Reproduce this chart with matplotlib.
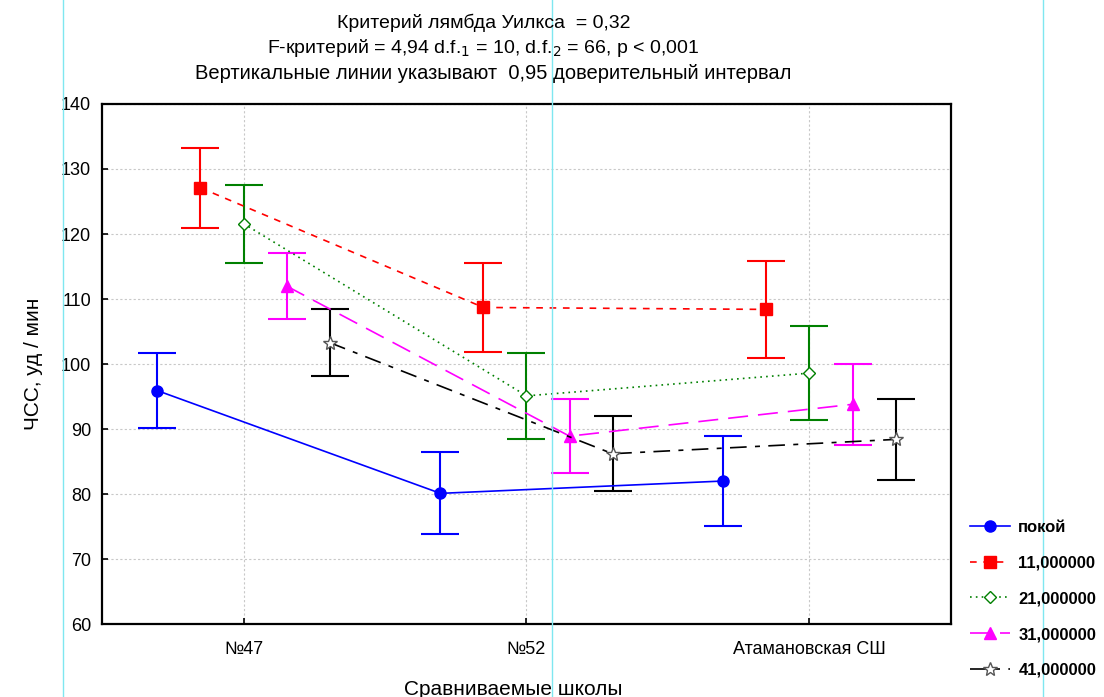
import matplotlib
matplotlib.use("Agg")
import matplotlib.pyplot as plt
from matplotlib.lines import Line2D
import numpy as np

SCHOOLS = ["№47", "№52", "Атамановская СШ"]
SERIES = ["покой", "11,000000", "21,000000", "31,000000", "41,000000"]

# group means and half-width of 0.95 CI, one list per series
REST_MEAN = [95.9, 80.1, 82.0]
REST_CI = [5.8, 6.3, 6.9]
L11_MEAN = [127.1, 108.7, 108.4]
L11_CI = [6.2, 6.9, 7.4]
L21_MEAN = [121.6, 95.1, 98.6]
L21_CI = [6.0, 6.6, 7.2]
L31_MEAN = [112.0, 88.9, 93.8]
L31_CI = [5.1, 5.7, 6.2]
L41_MEAN = [103.3, 86.2, 88.4]
L41_CI = [5.2, 5.8, 6.2]

MEANS = [REST_MEAN, L11_MEAN, L21_MEAN, L31_MEAN, L41_MEAN]
CIS = [REST_CI, L11_CI, L21_CI, L31_CI, L41_CI]

STYLES = [
    dict(color="#0000ff", ls="-", marker="o", ms=8, mfc="#0000ff", mec="#0000ff"),
    dict(color="#ff0000", ls=(0, (4, 4)), marker="s", ms=8, mfc="#ff0000", mec="#ff0000"),
    dict(color="#008000", ls=(0, (1, 2.5)), marker="D", ms=6, mfc="white", mec="#008000"),
    dict(color="#ff00ff", ls=(0, (12, 6)), marker="^", ms=8, mfc="#ff00ff", mec="#ff00ff"),
    dict(color="black", ls=(0, (10, 5, 3, 5)), marker="*", ms=10, mfc="white", mec="#555555"),
]

plt.rcParams["font.family"] = ["Liberation Sans", "DejaVu Sans"]

fig = plt.figure(figsize=(11.04, 6.97), dpi=100)
ax = fig.add_axes([0.0924, 0.1047, 0.7690, 0.7461])

x = np.arange(len(SCHOOLS))
offsets = np.linspace(-2, 2, len(SERIES)) * 0.152

for name, mean, ci, st, off in zip(SERIES, MEANS, CIS, STYLES, offsets):
    xs = x + off
    ax.errorbar(xs, mean, yerr=ci, fmt="none", ecolor=st["color"],
                elinewidth=1.5, capsize=14, capthick=1.5, zorder=2)
    ax.plot(xs, mean, color=st["color"], linestyle=st["ls"], linewidth=1.2,
            marker=st["marker"], markersize=st["ms"], markerfacecolor=st["mfc"],
            markeredgecolor=st["mec"], markeredgewidth=1.0, zorder=3)

ax.set_xlim(-0.5, 2.5)
ax.set_ylim(60, 140)
ax.set_xticks(x)
ax.set_xticklabels(SCHOOLS, fontsize=14)
ax.set_yticks(np.arange(60, 141, 10))
ax.tick_params(axis="both", direction="in", length=4, width=1.2, labelsize=13)
ax.tick_params(axis="y", pad=8)
ax.tick_params(axis="x", pad=12)
ax.grid(True, color="#c8c8c8", linestyle=(0, (2, 2)), linewidth=0.8)
ax.set_axisbelow(True)
for sp in ax.spines.values():
    sp.set_linewidth(1.6)
    sp.set_color("black")

ax.set_xlabel("Сравниваемые школы", fontsize=15)
ax.xaxis.set_label_coords(0.484, -0.108)
ax.xaxis.label.set_va("top")
ax.set_ylabel("ЧСС, уд / мин", fontsize=15, labelpad=13)

fig.text(0.438, 0.967, "Критерий лямбда Уилкса  = 0,32", ha="center", va="center", fontsize=14)
fig.text(0.438, 0.931,
         "F-критерий = 4,94 d.f.$_{1}$ = 10, d.f.$_{2}$ = 66, p < 0,001",
         ha="center", va="center", fontsize=14)
fig.text(0.447, 0.894, "Вертикальные линии указывают  0,95 доверительный интервал",
         ha="center", va="center", fontsize=14.5)

handles = [Line2D([], [], color=st["color"], linestyle=st["ls"], linewidth=1.2,
                  marker=st["marker"], markersize=st["ms"], markerfacecolor=st["mfc"],
                  markeredgecolor=st["mec"]) for st in STYLES]
fig.legend(handles, SERIES, loc="upper left", bbox_to_anchor=(0.865, 0.276),
           frameon=False, handlelength=2.4, handletextpad=0.5, labelspacing=1.25,
           prop=dict(weight="bold", size=12))

# guide lines visible in the reference screenshot
for gx in (63, 552, 1043):
    fig.add_artist(Line2D([gx / 1104, gx / 1104], [0, 1], color="#7fe7f0",
                          linewidth=1.0, transform=fig.transFigure))

fig.savefig("out.png", dpi=100)
